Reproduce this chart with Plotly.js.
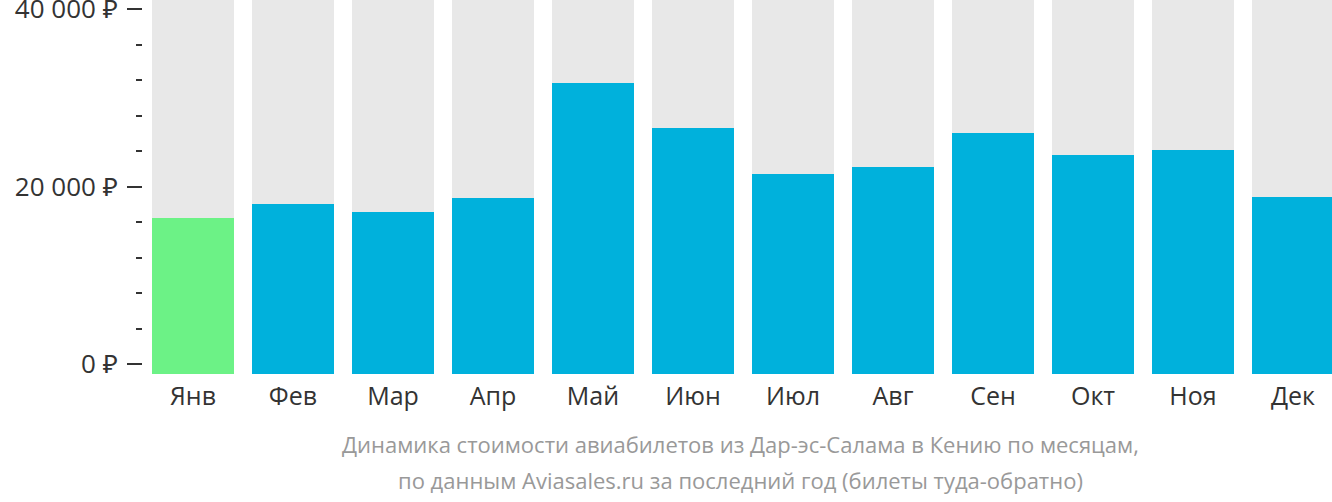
<!DOCTYPE html>
<html>
<head>
<meta charset="utf-8">
<script src="https://cdn.plot.ly/plotly-3.0.1.min.js"></script>
<style>html,body{margin:0;padding:0;background:#fff}#chart{width:1332px;height:502px}</style>
</head>
<body>
<div id="chart"></div>
<script>
const months = ["Янв","Фев","Мар","Апр","Май","Июн","Июл","Авг","Сен","Окт","Ноя","Дек"];
const prices = [17580, 19150, 18250, 19830, 32790, 27720, 22540, 23320, 27150, 24680, 25240, 19940];
const barColors = ["#6cf286","#00b1dc","#00b1dc","#00b1dc","#00b1dc","#00b1dc","#00b1dc","#00b1dc","#00b1dc","#00b1dc","#00b1dc","#00b1dc"];
const scaleTop = 42140;
const axisTickVals = [0, 20000, 40000];
const axisTickText = ["0 ₽", "20 000 ₽", "40 000 ₽"];
const titleLines = ["Динамика стоимости авиабилетов из Дар-эс-Салама в Кению по месяцам,",
                    "по данным Aviasales.ru за последний год (билеты туда-обратно)"];

const bg = {
  type: 'bar', x: months, y: months.map(() => scaleTop),
  marker: {color: '#e8e8e8'}, hoverinfo: 'skip', yaxis: 'y'
};
const main = {
  type: 'bar', x: months, y: prices,
  marker: {color: barColors}, yaxis: 'y'
};
const font = "'Open Sans', 'Noto Sans', sans-serif";
const layout = {
  width: 1332, height: 502,
  margin: {l: 143, r: 0, t: 0, b: 128, pad: 0},
  paper_bgcolor: '#fff', plot_bgcolor: '#fff',
  barmode: 'overlay', bargap: 0.18, showlegend: false,
  font: {family: font, color: '#333'},
  xaxis: {
    type: 'category', range: [-0.5, 11.39], showgrid: false, zeroline: false,
    showline: false, ticks: '', tickfont: {size: 25, color: '#333'}, ticklabelstandoff: 5
  },
  yaxis: {
    range: [0, scaleTop], showgrid: false, zeroline: false, showline: false,
    showticklabels: false, ticks: ''
  },
  yaxis2: {
    overlaying: 'y', side: 'left', range: [-1127, 41014],
    showgrid: false, zeroline: false, showline: false,
    tickmode: 'array', tickvals: axisTickVals, ticktext: axisTickText,
    ticklabeloverflow: 'allow',
    ticks: 'outside', ticklen: 15, tickwidth: 2, tickcolor: '#333',
    tickfont: {size: 26, color: '#333'}, ticklabelstandoff: 4,
    minor: {dtick: 4000, tick0: 0, ticks: 'outside', ticklen: 6, tickwidth: 2, tickcolor: '#333', showgrid: false}
  },
  annotations: [
    {xref: 'paper', yref: 'paper', x: 0.5, xshift: 3, y: 0, yshift: -70, yanchor: 'middle',
     text: titleLines[0], showarrow: false, font: {size: 22, color: '#999', family: font}},
    {xref: 'paper', yref: 'paper', x: 0.5, xshift: 3, y: 0, yshift: -106, yanchor: 'middle',
     text: titleLines[1], showarrow: false, font: {size: 22, color: '#999', family: font}}
  ]
};
const axisHolder = {type: 'scatter', x: [months[0]], y: [0], yaxis: 'y2', mode: 'markers',
  marker: {opacity: 0}, hoverinfo: 'skip'};
Plotly.newPlot('chart', [bg, main, axisHolder], layout, {displayModeBar: false, staticPlot: true});
</script>
</body>
</html>
